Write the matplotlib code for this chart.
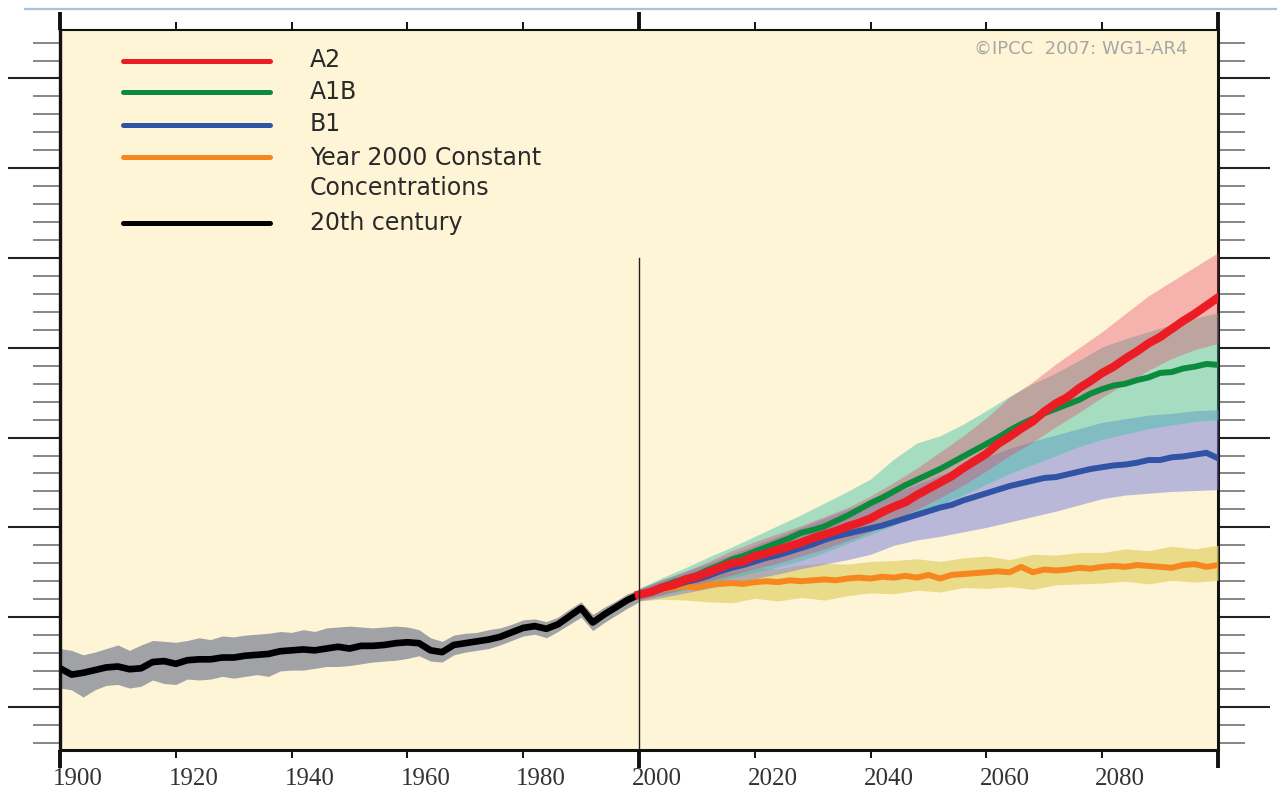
import numpy as np
import matplotlib
matplotlib.use("Agg")
import matplotlib.pyplot as plt
import matplotlib.transforms as mtransforms
from matplotlib.lines import Line2D

# ---------------- data ----------------
# 20th-century multi-model mean and spread (deg C, relative to 1980-1999)
years_20c = list(range(1900, 2001, 2))
mean_20c = [-0.57, -0.64, -0.62, -0.59, -0.56, -0.55, -0.58, -0.57, -0.50, -0.49,
            -0.52, -0.48, -0.47, -0.47, -0.45, -0.45, -0.43, -0.42, -0.41, -0.38,
            -0.37, -0.36, -0.37, -0.35, -0.33, -0.35, -0.32, -0.32, -0.31, -0.29,
            -0.28, -0.29, -0.37, -0.39, -0.31, -0.29, -0.27, -0.25, -0.22, -0.17,
            -0.12, -0.10, -0.13, -0.08, 0.01, 0.10, -0.06, 0.03, 0.11, 0.19, 0.25]
upper_20c = [-0.35, -0.37, -0.42, -0.39, -0.35, -0.31, -0.37, -0.31, -0.26, -0.27,
             -0.28, -0.26, -0.23, -0.25, -0.21, -0.22, -0.20, -0.19, -0.18, -0.16,
             -0.17, -0.14, -0.16, -0.12, -0.11, -0.10, -0.11, -0.12, -0.11, -0.10,
             -0.11, -0.14, -0.23, -0.27, -0.20, -0.18, -0.17, -0.14, -0.12, -0.08,
             -0.03, -0.02, -0.05, 0.00, 0.09, 0.17, 0.03, 0.11, 0.18, 0.26, 0.31]
lower_20c = [-0.79, -0.81, -0.89, -0.81, -0.76, -0.75, -0.79, -0.77, -0.70, -0.74,
             -0.75, -0.69, -0.70, -0.69, -0.66, -0.68, -0.66, -0.64, -0.66, -0.60,
             -0.59, -0.59, -0.57, -0.55, -0.55, -0.54, -0.52, -0.50, -0.49, -0.48,
             -0.46, -0.43, -0.49, -0.50, -0.42, -0.39, -0.37, -0.35, -0.31, -0.26,
             -0.21, -0.19, -0.23, -0.16, -0.08, 0.00, -0.15, -0.06, 0.02, 0.10, 0.17]

# scenario means, 2000-2100
years_proj = list(range(2000, 2101, 2))
a2_mean = [0.25, 0.28, 0.33, 0.36, 0.42, 0.45, 0.50, 0.55, 0.60, 0.62,
           0.68, 0.71, 0.75, 0.79, 0.83, 0.88, 0.92, 0.96, 1.01, 1.05,
           1.10, 1.17, 1.23, 1.28, 1.36, 1.43, 1.50, 1.57, 1.66, 1.74,
           1.82, 1.93, 2.01, 2.10, 2.18, 2.29, 2.38, 2.45, 2.55, 2.63,
           2.72, 2.79, 2.88, 2.96, 3.05, 3.12, 3.21, 3.30, 3.38, 3.47, 3.56]
a1b_mean = [0.25, 0.29, 0.34, 0.39, 0.43, 0.47, 0.53, 0.58, 0.64, 0.68,
            0.73, 0.78, 0.83, 0.88, 0.94, 0.97, 1.01, 1.07, 1.13, 1.20,
            1.27, 1.33, 1.40, 1.47, 1.53, 1.59, 1.65, 1.72, 1.79, 1.86,
            1.93, 2.00, 2.08, 2.15, 2.21, 2.27, 2.32, 2.37, 2.42, 2.49,
            2.54, 2.58, 2.60, 2.64, 2.67, 2.72, 2.73, 2.77, 2.79, 2.82, 2.81]
b1_mean = [0.25, 0.28, 0.32, 0.35, 0.39, 0.42, 0.46, 0.51, 0.55, 0.58,
           0.62, 0.66, 0.69, 0.73, 0.77, 0.81, 0.86, 0.90, 0.93, 0.96,
           0.99, 1.02, 1.06, 1.10, 1.14, 1.18, 1.22, 1.25, 1.30, 1.34,
           1.38, 1.42, 1.46, 1.49, 1.52, 1.55, 1.56, 1.59, 1.62, 1.65,
           1.67, 1.69, 1.70, 1.72, 1.75, 1.75, 1.78, 1.79, 1.81, 1.83, 1.77]
const_mean = [0.25, 0.29, 0.31, 0.33, 0.34, 0.33, 0.36, 0.37, 0.38, 0.37,
              0.39, 0.40, 0.39, 0.41, 0.40, 0.41, 0.42, 0.41, 0.43, 0.44,
              0.43, 0.45, 0.44, 0.46, 0.44, 0.47, 0.43, 0.47, 0.48, 0.49,
              0.50, 0.51, 0.50, 0.56, 0.50, 0.53, 0.52, 0.53, 0.55, 0.54,
              0.56, 0.57, 0.56, 0.58, 0.57, 0.56, 0.55, 0.58, 0.59, 0.56, 0.58]

# scenario spread (+/- one standard deviation)
years_band = list(range(2000, 2101, 4))
a2_lo = [0.19, 0.25, 0.32, 0.40, 0.47, 0.54, 0.60, 0.68, 0.76, 0.85, 0.95, 1.08, 1.20,
         1.33, 1.47, 1.63, 1.80, 1.95, 2.12, 2.28, 2.45, 2.60, 2.75, 2.88, 2.98, 3.05]
a2_hi = [0.31, 0.41, 0.51, 0.62, 0.74, 0.84, 0.93, 1.02, 1.12, 1.22, 1.35, 1.50, 1.66,
         1.84, 2.02, 2.22, 2.45, 2.62, 2.82, 3.00, 3.18, 3.38, 3.58, 3.74, 3.90, 4.06]
a1b_lo = [0.19, 0.25, 0.30, 0.37, 0.44, 0.50, 0.56, 0.63, 0.72, 0.82, 0.92, 1.02, 1.14,
          1.25, 1.36, 1.48, 1.60, 1.70, 1.80, 1.90, 1.98, 2.04, 2.10, 2.14, 2.18, 2.20]
a1b_hi = [0.32, 0.44, 0.55, 0.67, 0.78, 0.90, 1.02, 1.14, 1.27, 1.40, 1.54, 1.76, 1.94,
          2.02, 2.15, 2.30, 2.46, 2.60, 2.72, 2.86, 3.01, 3.10, 3.18, 3.26, 3.33, 3.39]
b1_lo = [0.18, 0.22, 0.27, 0.32, 0.38, 0.43, 0.48, 0.54, 0.59, 0.64, 0.70, 0.80, 0.86,
         0.90, 0.95, 1.00, 1.06, 1.12, 1.18, 1.25, 1.32, 1.36, 1.38, 1.40, 1.41, 1.42]
b1_hi = [0.32, 0.42, 0.51, 0.60, 0.70, 0.80, 0.90, 1.00, 1.10, 1.20, 1.29, 1.38, 1.48,
         1.58, 1.68, 1.78, 1.88, 1.96, 2.03, 2.10, 2.17, 2.21, 2.25, 2.27, 2.30, 2.31]
const_lo = [0.18, 0.20, 0.19, 0.17, 0.16, 0.21, 0.18, 0.22, 0.19, 0.24, 0.27, 0.26, 0.30,
            0.28, 0.33, 0.32, 0.34, 0.31, 0.36, 0.37, 0.38, 0.40, 0.37, 0.41, 0.39, 0.41]
const_hi = [0.31, 0.42, 0.47, 0.49, 0.50, 0.55, 0.54, 0.58, 0.60, 0.59, 0.62, 0.63, 0.65,
            0.62, 0.66, 0.68, 0.64, 0.70, 0.69, 0.72, 0.72, 0.76, 0.74, 0.79, 0.76, 0.80]

legend_labels = ["A2", "A1B", "B1", "Year 2000 Constant\nConcentrations", "20th century"]
xtick_years = list(range(1900, 2101, 20))
xtick_labels = [str(y) for y in xtick_years[:-1]] + [""]

# ---------------- figure ----------------
W, H, DPI = 1277, 796, 100
fig = plt.figure(figsize=(W / DPI, H / DPI), dpi=DPI, facecolor="white")
L, R, T, B = 60, 1218, 30, 750
ax = fig.add_axes([L / W, 1 - B / H, (R - L) / W, (B - T) / H])
ax.set_facecolor("#FEF4D6")
ax.set_xlim(1900, 2100)
ax.set_ylim(-1.48, 6.54)

# 20th century
ax.fill_between(years_20c, lower_20c, upper_20c, color="#A1A2A6", lw=0, zorder=2)
ax.plot(years_20c, mean_20c, color="black", lw=4.8, solid_capstyle="butt", zorder=3)

# scenario spreads
ax.fill_between(years_band, const_lo, const_hi, color="#E3D36E", alpha=0.75, lw=0, zorder=4)
ax.fill_between(years_band, b1_lo, b1_hi, color="#767EDC", alpha=0.5, lw=0, zorder=5)
ax.fill_between(years_band, a1b_lo, a1b_hi, color="#3CC2A6", alpha=0.45, lw=0, zorder=6)
ax.fill_between(years_band, a2_lo, a2_hi, color="#E83A62", alpha=0.35, lw=0, zorder=7)

# scenario means
ax.plot(years_proj, const_mean, color="#F7861F", lw=4.3, zorder=8)
ax.plot(years_proj, b1_mean, color="#3153A5", lw=4.3, zorder=9)
ax.plot(years_proj, a1b_mean, color="#0C8B3F", lw=4.3, zorder=10)
ax.plot(years_proj, a2_mean, color="#EC1C24", lw=6.0, zorder=11)

# year-2000 divider
ax.plot([2000, 2000], [-1.48, 4.0], color="#222222", lw=1.0, zorder=12)

# legend
legend_colors = ["#EC1C24", "#0C8B3F", "#3153A5", "#F7861F", "black"]
line_rows = [61, 92, 125, 157, 223]
text_rows = [60, 92, 124, 173, 223]
def ax_x(px):
    return (px - L) / (R - L)
def ax_y(py):
    return (B - py) / (B - T)
for lab, col, ly, ty in zip(legend_labels, legend_colors, line_rows, text_rows):
    ax.add_line(Line2D([ax_x(123), ax_x(270)], [ax_y(ly), ax_y(ly)], transform=ax.transAxes,
                       color=col, lw=3.6, solid_capstyle="round", zorder=20))
    ax.text(ax_x(310), ax_y(ty), lab, transform=ax.transAxes, fontsize=17,
            family="DejaVu Sans", color="#2A2A2A", va="center", ha="left",
            linespacing=1.27, zorder=20)

ax.text(ax_x(1188), ax_y(49), "\u00a9IPCC  2007: WG1-AR4", transform=ax.transAxes,
        ha="right", va="center", fontsize=13, family="DejaVu Sans", color="#A6A6A6")

# spines
for side, lw in (("left", 2.4), ("right", 2.2), ("top", 1.5), ("bottom", 2.2)):
    ax.spines[side].set_linewidth(lw)
    ax.spines[side].set_color("#111111")

# x ticks: labelled every 20 years, long marks at the century boundaries
ax.set_xticks(xtick_years, labels=xtick_labels)
ax.set_xticks([1900, 2000, 2100], minor=True)
ax.xaxis.remove_overlapping_locs = False
ax.tick_params(axis="x", which="major", direction="out", top=True, bottom=True,
               length=6, width=1.4, color="#111111", pad=7, labelsize=18,
               labelcolor="#333333")
ax.tick_params(axis="x", which="minor", direction="out", top=True, bottom=True,
               length=13, width=2.8, color="#111111")
for lab in ax.get_xticklabels():
    lab.set_family("Liberation Serif")
shift = mtransforms.ScaledTranslation(18 / DPI, 0, fig.dpi_scale_trans)
for lab in ax.xaxis.get_majorticklabels():
    lab.set_transform(lab.get_transform() + shift)

# y ticks: unlabelled, on both sides
ax.set_yticks(np.arange(-1, 7, 1))
ax.set_yticks(np.round(np.arange(-1.4, 6.5, 0.2), 1), minor=True)
ax.tick_params(axis="y", which="major", direction="out", left=True, right=True,
               length=37.5, width=1.5, color="#222222", labelleft=False, labelright=False)
ax.tick_params(axis="y", which="minor", direction="out", left=True, right=True,
               length=19.5, width=1.1, color="#666666")

# thin rule along the top edge
fig.add_artist(Line2D([25 / W, 1.0], [1 - 9 / H, 1 - 9 / H], transform=fig.transFigure,
                      color="#A9C3DC", lw=1.6))

fig.savefig("out.png", dpi=DPI, facecolor="white")
